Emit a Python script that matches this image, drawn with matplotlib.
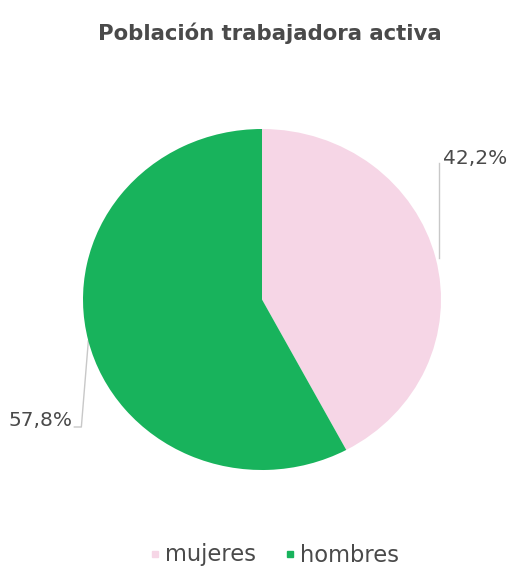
from matplotlib import pyplot as plt
import numpy as np

title = 'Población trabajadora activa'
categories = ['mujeres', 'hombres']
values = [42.2, 57.8]
labels = ['42,2%', '57,8%']
colors = ['#f6d6e6', '#18b35c']

plt.rcParams['font.family'] = ['DejaVu Sans']

W, H = 509, 572
fig = plt.figure(figsize=(W / 100, H / 100), dpi=100)

# background axes in pixel coords (y down)
bg = fig.add_axes([0, 0, 1, 1])
bg.set_xlim(0, W)
bg.set_ylim(H, 0)
bg.axis('off')

# pie is slightly wider than tall in the reference
x0, x1, y0, y1 = 83, 441, 129, 470
cx, cy = (x0 + x1) / 2, (y0 + y1) / 2
rx, ry = (x1 - x0) / 2, (y1 - y0) / 2
pax = fig.add_axes([x0 / W, 1 - y1 / H, (x1 - x0) / W, (y1 - y0) / H])
wedges, _ = pax.pie(values, colors=colors, startangle=90, counterclock=False,
                    radius=1, frame=True)
pax.set_aspect('auto')
pax.set_xlim(-1, 1)
pax.set_ylim(-1, 1)
pax.axis('off')

txt = '#4a4a4a'
line = '#c8c8c8'
fs = 14.5
for i, w in enumerate(wedges):
    a = np.deg2rad((w.theta1 + w.theta2) / 2)
    px, py = cx + rx * np.cos(a), cy - ry * np.sin(a)
    if i == 0:
        bg.plot([px + 3, px + 3], [py, 163], color=line, lw=1)
        bg.text(px + 7, 158, labels[i], color=txt, fontsize=fs,
                ha='left', va='center')
    else:
        bg.plot([px, px - 7, px - 14], [py, 427, 427], color=line, lw=1)
        bg.text(px - 16, 420, labels[i], color=txt, fontsize=fs,
                ha='right', va='center')

bg.text(270, 33, title, color=txt, fontsize=15.3, fontweight='bold',
        ha='center', va='center')

# legend
lx = [155, 290]
for x, c, name in zip(lx, colors, categories):
    bg.plot(x, 554, 's', color=c, ms=5)
    bg.text(x + 10, 555, name, color=txt, fontsize=16.3, ha='left', va='center')

fig.savefig('out.png', dpi=100)
